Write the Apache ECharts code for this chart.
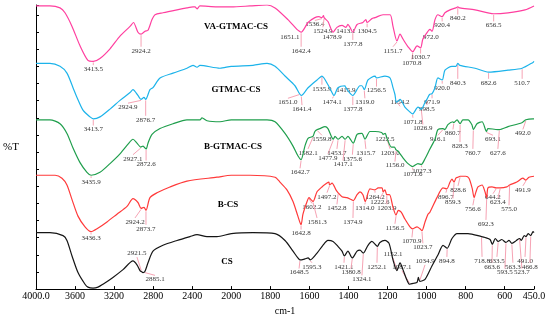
<!DOCTYPE html>
<html><head><meta charset="utf-8">
<script src="https://cdn.jsdelivr.net/npm/echarts@6/dist/echarts.min.js"></script>
<style>html,body{margin:0;padding:0;background:#fff}#c{width:550px;height:321px}</style>
</head><body><div id="c"></div>
<script>
// Wavenumber (cm-1) vs. offset transmittance (%T, arbitrary stacked units)
const xTickLabels = [4000, 3600, 3200, 2800, 2400, 2000, 1800, 1600, 1400, 1200, 1000, 800, 600, 450];
const seriesNames = ['VA-GTMAC-CS', 'GTMAC-CS', 'B-GTMAC-CS', 'B-CS', 'CS'];

const vaGtmacCs = [[4000,291],[3857,291],[3754,289],[3703,284],[3631,270],[3549,250],[3468,235],[3413.5,234],[3345,237],[3242,247],[3140,260],[3037,270],[3002,274],[2956,264],[2924.2,262],[2884,265],[2853,266],[2812,277],[2781,282],[2700,284],[2556,287],[2454,289],[2392,290],[2372,290],[2351,288],[2321,291],[2147,290],[2000,290],[1904,291],[1817,292],[1776,289],[1710,277],[1664,267],[1651.1,265],[1642.4,264],[1607,274],[1572,279],[1551,280],[1536.4,279],[1528,281],[1524.9,279],[1505,275],[1478.9,264],[1459,269],[1433,271],[1413.1,269],[1403,272],[1392,269],[1377.8,264],[1356,272],[1326,274],[1311,277],[1304.5,274],[1280,278],[1264,279],[1223,282],[1187,282],[1172,270],[1151.7,255],[1136,262],[1121,257],[1095,249],[1070.8,244],[1049,250],[1030.7,248],[1019,257],[993,265],[983,267],[972,265],[957,277],[942,282],[920.4,280],[906,284],[880,287],[850,289],[840.2,290],[830,289],[752,287],[656.5,283],[583,284],[496,287],[450,291]];
const gtmacCs = [[4000,232],[3857,232],[3754,229],[3683,222],[3621,207],[3580,197],[3519,184],[3447,177],[3413.7,175],[3345,177],[3242,185],[3140,194],[3037,202],[3007,205],[2956,199],[2924.9,195],[2894,197],[2876.7,195],[2833,205],[2802,207],[2730,217],[2597,222],[2454,227],[2392,230],[2351,228],[2321,230],[2116,227],[2000,229],[1889,230],[1817,232],[1776,229],[1725,219],[1674,209],[1651,201],[1641.4,199],[1607,207],[1561,215],[1535.9,219],[1505,210],[1479,200],[1474.1,199],[1454,207],[1418,209],[1415.9,208],[1403,204],[1377.8,199],[1341,209],[1331,209],[1319,205],[1300,215],[1264,219],[1256.5,217],[1213,219],[1187,217],[1172,207],[1162,200],[1154.2,192],[1136,195],[1111,187],[1085,182],[1071.8,180],[1044,187],[1026.9,185],[1008,192],[998.5,195],[985,200],[971.9,201],[957,207],[942,217],[920,215],[906,225],[870,229],[850,229],[840.3,232],[830,230],[752,227],[682.6,223],[583,225],[510.7,227],[455,233],[450,234]];
const bGtmacCs = [[4000,174],[3857,174],[3754,170],[3683,160],[3621,145],[3549,130],[3478,120],[3435.9,117],[3345,120],[3242,129],[3140,139],[3058,149],[3007,154],[2966,150],[2927.1,146],[2904,147],[2872.6,144],[2853,150],[2812,159],[2730,165],[2597,170],[2454,174],[2321,174],[2300,176],[2249,173],[2116,172],[2000,174],[1889,174],[1817,174],[1776,172],[1725,160],[1684,147],[1659,137],[1642.7,133],[1623,147],[1607,155],[1582.1,157],[1572,162],[1559.8,164],[1546,165],[1520,167],[1505,165],[1477.9,154],[1469,157],[1453.7,154],[1433,157],[1417.1,154],[1403,157],[1375.6,150],[1356,159],[1331,160],[1315.7,154],[1290,162],[1264,162],[1230,161],[1222.5,159],[1212,160],[1203,155],[1180,146],[1165,146],[1156,143],[1147,142],[1121,135],[1095,129],[1071.6,126],[1044,129],[1027.3,128],[1008,134],[983,144],[957,154],[942,164],[916.1,165],[906,164],[891,169],[865,172],[860.7,171],[844,174],[828.3,170],[814,174],[788,174],[768,169],[760.7,164],[742,170],[716,172],[693.1,162],[686,165],[635,164],[627.6,164],[583,167],[512,171],[492,174],[455,175],[450,175]];
const bCs = [[4000,117],[3805,117],[3734,114],[3683,107],[3631,92],[3570,75],[3498,64],[3436.3,59],[3375,62],[3273,69],[3171,77],[3068,85],[3007,93],[2956,89],[2924.2,83],[2894,84],[2873.7,81],[2833,94],[2761,99],[2628,105],[2454,111],[2147,115],[2000,117],[1904,117],[1776,115],[1751,110],[1715,102],[1684,90],[1659,75],[1642.8,66],[1633,77],[1612,90],[1602.2,94],[1592,92],[1581.3,90],[1561,100],[1536,105],[1510,109],[1500,110],[1497.2,107],[1484,109],[1464,102],[1452.8,99],[1433,95],[1408,94],[1385,92],[1374.9,91],[1356,97],[1341,100],[1326,97],[1314,90],[1290,103],[1264.2,102],[1248,104],[1228,104],[1222.6,100],[1213,102],[1203.9,97],[1190,97],[1172,84],[1156.5,76],[1145,81],[1130,79],[1111,72],[1085,64],[1070.9,62],[1049,64],[1034,62],[1023.7,60],[1008,69],[993,77],[983,79],[947,94],[916,104],[896.7,103],[880,110],[870,113],[859.3,110],[850,114],[840,115],[828.6,116],[800,116],[783,114],[767,104],[756.6,94],[747,100],[737,105],[716,107],[701,100],[692.3,94],[686,104],[665,105],[644.2,104],[623.4,104],[589,105],[575,107],[538,110],[507,114],[491.9,112],[476,115],[450,116]];
const cs = [[4000,58],[3857,58],[3723,55],[3683,50],[3631,34],[3570,17],[3498,5],[3468,2],[3416,1],[3365,2],[3314,5],[3212,12],[3109,20],[3007,29],[2966,25],[2935,19],[2921.5,18],[2904,17],[2885.1,18],[2853,27],[2802,39],[2700,45],[2556,50],[2423,54],[2351,56],[2249,54],[2147,54],[2000,57],[1889,58],[1776,57],[1725,50],[1684,39],[1659,32],[1648.5,30],[1623,31],[1607,32],[1595.3,30],[1561,37],[1531,45],[1505,50],[1479,49],[1454,44],[1433,39],[1421.1,34],[1403,39],[1380.8,32],[1356,39],[1341,40],[1324.1,37],[1300,45],[1280,49],[1252.1,44],[1239,48],[1213,50],[1192.1,47],[1172,30],[1152.1,19],[1136,27],[1121,20],[1100,9],[1087.1,5],[1065,6],[1049,7],[1042,12],[1034.9,8],[1008,10],[972,24],[942,35],[916,45],[894.8,42],[870,52],[844,57],[788,57],[718.8,54],[700,53],[675,51],[663.6,46],[648,52],[633.5,49],[615,51],[593.5,48],[578,50],[563.3,47],[540,50],[523.7,52],[515,50],[500,55],[491,54],[480,57],[466.8,55],[455,59],[450,58]];

// peak annotations: [peak wavenumber, label wavenumber, label %T]
const vaPeaks = [[3413.5,3413.5,226],[2924.2,2924.2,245],[1651.1,1700,259],[1642.4,1642.4,245],[1536.4,1572,272],[1524.9,1531,265],[1478.9,1484,259],[1413.1,1413.1,265],[1377.8,1377.8,252],[1304.5,1304.5,265],[1151.7,1172,245],[1070.8,1075,232],[1030.7,1030.7,238],[972.0,978,259],[920.4,920.4,271],[840.2,840.2,278],[656.5,656.5,271]];
const gtPeaks = [[3413.7,3413.7,164],[2924.9,3058,187],[2876.7,2876.7,174],[1651.0,1710,192],[1641.4,1638,185],[1535.9,1536,206],[1474.1,1484,192],[1415.9,1413,204],[1377.8,1377.8,185],[1319.0,1316,192],[1256.5,1256.5,204],[1154.2,1136,192],[1071.8,1070,172],[1026.9,1019,165],[998.5,998,185],[971.9,972,192],[920.0,920,207],[840.3,840.3,212],[682.6,682.6,212],[510.7,510.7,212]];
const bgPeaks = [[3435.9,3435.9,110],[2927.1,3007,134],[2872.6,2872.6,128],[1642.7,1648,120],[1582.1,1607,140],[1559.8,1536,154],[1477.9,1505,135],[1453.7,1459,140],[1417.1,1428,128],[1375.6,1380,134],[1315.7,1311,140],[1222.5,1213,154],[1203.0,1187,140],[1156.0,1162,127],[1071.6,1070,118],[1027.3,1024,121],[916.1,942,154],[860.7,865,160],[828.3,829,147],[760.7,763,140],[693.1,660,154],[627.6,635,140],[492.0,507,160]];
const bcPeaks = [[3436.3,3436.3,52],[2924.2,2986,69],[2873.7,2873.7,62],[1642.8,1642.8,57],[1602.2,1587,84],[1581.3,1561,69],[1497.2,1510,95],[1452.8,1459,83],[1374.9,1377,69],[1314.0,1316,83],[1264.2,1264,95],[1222.6,1239,89],[1203.9,1203,83],[1156.5,1162,63],[1070.9,1075,49],[1023.7,1019,43],[896.7,901,95],[859.3,865,89],[828.6,839,102],[756.6,763,82],[692.3,696,67],[644.2,660,94],[623.4,635,89],[575.0,578,82],[491.9,507,102]];
const csPeaks = [[2921.5,2966,37],[2885.1,2781,10],[1648.5,1653,17],[1595.3,1587,23],[1421.1,1423,23],[1380.8,1387,17],[1324.1,1331,10],[1252.1,1254,23],[1152.1,1172,36],[1087.1,1126,23],[1034.9,1008,29],[894.8,896,29],[718.8,716,29],[663.6,665,23],[633.5,640,29],[593.5,599,17],[563.3,558,23],[523.7,512,17],[491.0,496,29],[466.8,471,23]];

const colors = ['#ff3f9f', '#1cb3ea', '#1f9e4c', '#ff3a3a', '#151515'];
const curves = [vaGtmacCs, gtmacCs, bGtmacCs, bCs, cs];
const peaks = [vaPeaks, gtPeaks, bgPeaks, bcPeaks, csPeaks];
const nameLabelPos = [[236, 27], [236, 90], [233, 147], [228, 205], [227, 262]];

// broken wavenumber axis: 4000-2000 compressed 2x relative to 2000-450
const toT = w => w >= 2000 ? (4000 - w) / 2 : 3000 - w;
const fromT = t => t <= 1000 ? 4000 - 2 * t : 3000 - t;
const interpAt = (arr, w) => {
  for (let i = 0; i < arr.length - 1; i++) {
    const a = arr[i], b = arr[i + 1];
    if (w <= a[0] && w >= b[0]) { const f = (a[0] - w) / (a[0] - b[0] || 1); return a[1] + (b[1] - a[1]) * f; }
  }
  return arr[arr.length - 1][1];
};

const FONT = 'Liberation Serif';
const series = [];
curves.forEach((c, k) => {
  const ann = peaks[k].map(p => ({ t: toT(p[0]), cv: interpAt(c, p[0]), lt: toT(p[1]), lv: p[2], text: p[0].toFixed(1) }));
  series.push({
    type: 'custom', coordinateSystem: 'cartesian2d', clip: false, silent: true, z: 1,
    data: ann.map(a => [a.lt, a.lv]),
    renderItem: (params, api) => {
      const a = ann[params.dataIndex];
      const p1 = api.coord([a.t, a.cv]);
      const p2 = api.coord([a.lt, a.lv]);
      const below = p2[1] > p1[1];
      const yEnd = below ? p2[1] - 4 : p2[1] + 4;
      const children = [];
      if (Math.abs(yEnd - p1[1]) > 2) {
        children.push({ type: 'line', shape: { x1: p1[0], y1: p1[1] + (below ? 1 : -1), x2: p2[0], y2: yEnd }, style: { stroke: '#f6a3b4', lineWidth: 1 } });
      }
      children.push({ type: 'text', style: { text: a.text, x: p2[0], y: p2[1], align: 'center', verticalAlign: 'middle', fontSize: 7, fontFamily: FONT, fill: '#333' } });
      return { type: 'group', children };
    }
  });
  series.push({
    type: 'line', name: seriesNames[k], data: c.map(p => [toT(p[0]), p[1]]),
    showSymbol: false, smooth: 0.25, z: 3,
    lineStyle: { color: colors[k], width: 1.2 }, itemStyle: { color: colors[k] }
  });
});

const chart = echarts.init(document.getElementById('c'));
chart.setOption({
  animation: false,
  backgroundColor: '#fff',
  grid: { left: 36, right: 16, top: 5, bottom: 24 },
  xAxis: {
    type: 'value', min: 0, max: 2550, interval: 200,
    name: 'cm-1', nameLocation: 'middle', nameGap: 15,
    nameTextStyle: { fontFamily: FONT, fontSize: 10, color: '#000' },
    axisLine: { lineStyle: { color: '#000', width: 1 } },
    axisTick: { inside: true, length: 3, lineStyle: { color: '#000' } },
    axisLabel: { margin: 2, fontFamily: FONT, fontSize: 10, color: '#000',
      formatter: v => { const w = Math.round(fromT(v)); return (w === 4000 || w === 450) ? w.toFixed(1) : String(w); } },
    splitLine: { show: false }
  },
  yAxis: {
    type: 'value', min: 0, max: 292, interval: 17.6,
    name: '%T', nameLocation: 'middle', nameGap: 17, nameRotate: 0,
    nameTextStyle: { fontFamily: FONT, fontSize: 11, color: '#000' },
    axisLine: { show: true, lineStyle: { color: '#000', width: 1 } },
    axisTick: { show: true, inside: true, length: 3, lineStyle: { color: '#000' } },
    axisLabel: { show: false },
    splitLine: { show: false }
  },
  graphic: seriesNames.map((n, k) => ({
    type: 'text', x: nameLabelPos[k][0], y: nameLabelPos[k][1],
    style: { text: n, align: 'center', verticalAlign: 'middle', fontSize: 9, fontWeight: 'bold', fontFamily: FONT, fill: '#000' }
  })),
  series
});
</script></body></html>
